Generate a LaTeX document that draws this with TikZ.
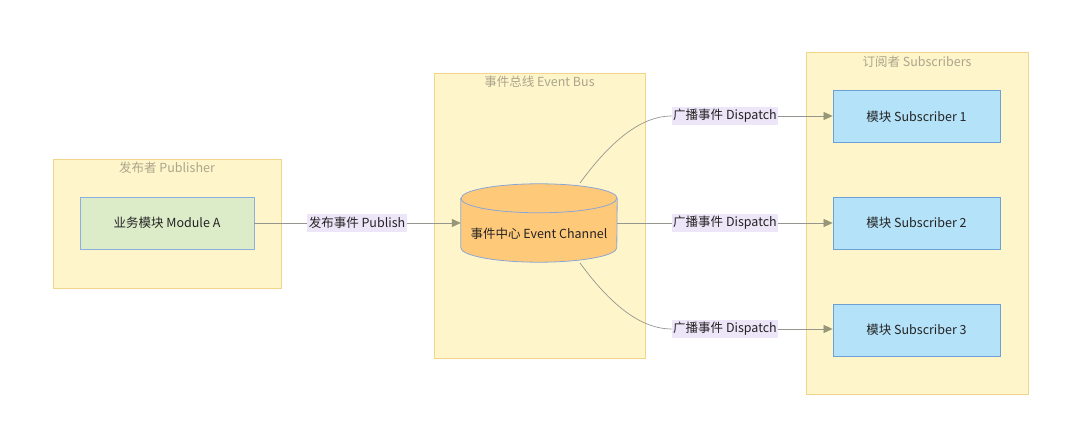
\documentclass[tikz,border=0pt]{standalone}
\usepackage{fontspec}
\setmainfont{Noto Sans CJK SC}
\usetikzlibrary{arrows.meta,calc}
\definecolor{clfill}{RGB}{255,245,202}
\definecolor{cldraw}{RGB}{243,213,138}
\definecolor{cltext}{RGB}{170,166,140}
\definecolor{grfill}{RGB}{220,235,200}
\definecolor{grdraw}{RGB}{140,175,222}
\definecolor{cyfill}{RGB}{255,201,122}
\definecolor{cydraw}{RGB}{138,166,214}
\definecolor{blfill}{RGB}{180,226,248}
\definecolor{bldraw}{RGB}{110,160,216}
\definecolor{lbfill}{RGB}{237,229,248}
\definecolor{edgecol}{RGB}{150,150,145}
\definecolor{tipcol}{RGB}{150,150,120}
\definecolor{txt}{RGB}{35,35,35}
\tikzset{
  cluster/.style={draw=cldraw,fill=clfill,line width=0.8pt,inner sep=0pt},
  cltitle/.style={text=cltext,font=\fontsize{12.5}{14}\selectfont,inner sep=0pt},
  modbox/.style={draw=grdraw,fill=grfill,line width=0.8pt,minimum width=174pt,minimum height=52pt,text=txt,font=\fontsize{12.5}{14}\selectfont},
  subbox/.style={draw=bldraw,fill=blfill,line width=0.8pt,minimum width=167pt,minimum height=52pt,text=txt,font=\fontsize{12.5}{14}\selectfont},
  elabel/.style={fill=lbfill,text=txt,font=\fontsize{12.5}{14}\selectfont,inner sep=1.5pt,minimum height=18pt},
  edge/.style={draw=edgecol,line width=0.7pt},
  arr/.style={edge,-{Triangle[length=9pt,width=8pt,fill=tipcol,color=tipcol]}},
}
\begin{document}
\begin{tikzpicture}[x=1pt,y=1pt]
\useasboundingbox[fill=white] (0,0) rectangle (1080,447);
% clusters
\node[cluster,minimum width=228pt,minimum height=129pt] (pub) at (167,223.5) {};
\node[cltitle] (pubt) at (167,279) {发布者 Publisher};
\node[cluster,minimum width=211pt,minimum height=285pt] (bus) at (539.5,231.5) {};
\node[cltitle] (bust) at (539.5,365) {事件总线 Event Bus};
\node[cluster,minimum width=222pt,minimum height=342pt] (subs) at (917,224) {};
\node[cltitle] (subst) at (917,385) {订阅者 Subscribers};
% nodes
\node[modbox] (ma) at (167,224) {业务模块 Module A};
\node[minimum width=156pt,minimum height=78pt,inner sep=0pt] (ch) at (539,224) {};
\fill[cyfill,draw=cydraw,line width=0.8pt] ([yshift=-14.5pt]ch.north west) -- ([yshift=14.5pt]ch.south west)
  arc[start angle=180,end angle=360,x radius=78pt,y radius=14.5pt]
  -- ([yshift=-14.5pt]ch.north east)
  arc[start angle=0,end angle=180,x radius=78pt,y radius=14.5pt] -- cycle;
\draw[cydraw,line width=0.8pt] ([yshift=-14.5pt]ch.north west) arc[start angle=180,end angle=360,x radius=78pt,y radius=14.5pt];
\node[text=txt,font=\fontsize{12.5}{14}\selectfont] (cht) at (539,213) {事件中心 Event Channel};
\node[subbox] (s1) at (916.5,330.5) {模块 Subscriber 1};
\node[subbox] (s2) at (916.5,224) {模块 Subscriber 2};
\node[subbox] (s3) at (916.5,117) {模块 Subscriber 3};
% edge labels
\node[elabel] (lp) at (357,224) {发布事件 Publish};
\node[elabel] (l1) at (725,331) {广播事件 Dispatch};
\node[elabel] (l2) at (725,224) {广播事件 Dispatch};
\node[elabel] (l3) at (725,118) {广播事件 Dispatch};
\coordinate (ctop) at (580,264);
\coordinate (cbot) at (580,184);
% connectors
\draw[edge] (ma.east) -- (lp.west);
\draw[arr] (lp.east) -- (ch.west);
\draw[edge] (ctop) .. controls (615,312) and (645,331) .. (l1.west);
\draw[arr] (l1.east) -- (s1.west|-l1.east);
\draw[edge] (ch.east) -- (l2.west);
\draw[arr] (l2.east) -- (s2.west);
\draw[edge] (cbot) .. controls (615,136) and (645,118) .. (l3.west);
\draw[arr] (l3.east) -- (s3.west|-l3.east);
\end{tikzpicture}
\end{document}
